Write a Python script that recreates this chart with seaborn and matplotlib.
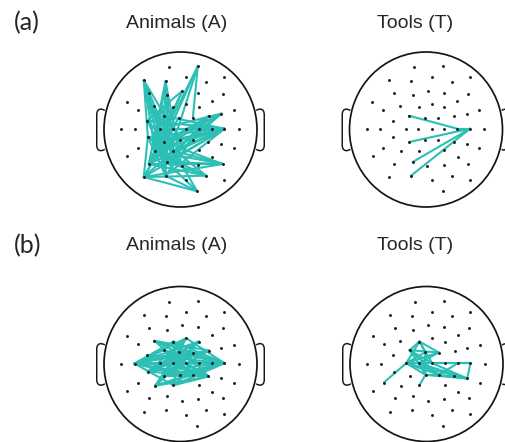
import numpy as np
import pandas as pd
import matplotlib
matplotlib.use("Agg")
import matplotlib.pyplot as plt
from matplotlib.patches import Ellipse, PathPatch
from matplotlib.path import Path
import seaborn as sns

sns.set_theme(style="white")
plt.rcParams["font.family"] = ["Liberation Sans", "DejaVu Sans"]

# Electrode positions on the unit head (x to the right, y towards the nose)
elec_x = [-0.153, 0.226,
          -0.480, -0.196, 0.075, 0.336, 0.575,
          -0.414, -0.174, 0.022, 0.235, 0.553,
          -0.702, -0.558, -0.340, -0.092, 0.075, 0.239, 0.409, 0.697,
          -0.435, -0.222, -0.017, 0.161, 0.370, 0.532,
          -0.775, -0.601, -0.265, -0.101, 0.075, 0.239, 0.409, 0.575, 0.762,
          -0.427, -0.218, -0.013, 0.161, 0.366, 0.532,
          -0.697, -0.558, -0.331, -0.092, 0.239, 0.414, 0.697,
          -0.414, -0.174, 0.017, 0.235, 0.553,
          -0.480, -0.196, 0.075, 0.336, 0.575,
          0.218]
elec_y = [0.806, 0.815,
          0.635, 0.622, 0.677, 0.613, 0.677,
          0.467, 0.441, 0.497, 0.471, 0.462,
          0.359, 0.255, 0.299, 0.290, 0.333, 0.290, 0.368, 0.248,
          0.114, 0.178, 0.152, 0.148, 0.174, 0.204,
          0.006, 0.006, 0.010, 0.010, 0.010, 0.010, 0.010, 0.010, 0.006,
          -0.097, -0.161, -0.139, -0.139, -0.161, -0.187,
          -0.346, -0.239, -0.281, -0.274, -0.268, -0.355, -0.239,
          -0.445, -0.419, -0.475, -0.454, -0.445,
          -0.613, -0.596, -0.655, -0.596, -0.648,
          -0.797]

# Significant connections (pairs of electrode indices) per condition
animals_a_edges = [
    (33, 20), (33, 35), (33, 28), (33, 36), (33, 43), (33, 44), (33, 49), (33, 48),
    (33, 29), (33, 21), (33, 37), (33, 54), (33, 53),
    (25, 36), (25, 43), (25, 44), (25, 28), (25, 49),
    (24, 43), (24, 36), (24, 49), (24, 54),
    (52, 43), (52, 48), (52, 49), (52, 36), (52, 44), (52, 53),
    (56, 53), (56, 48), (56, 36), (56, 43), (56, 49),
    (58, 54), (58, 53), (58, 43), (58, 44),
    (2, 36), (2, 43), (2, 49), (2, 44), (2, 54), (2, 29), (2, 35),
    (3, 36), (3, 43), (3, 50), (3, 48), (3, 44),
    (8, 43), (8, 49), (8, 54), (9, 20), (9, 48), (9, 43),
    (1, 23), (1, 43), (1, 36), (1, 49),
    (20, 44), (20, 49), (35, 44), (35, 50), (35, 54), (35, 53),
    (21, 49), (21, 44), (28, 50), (28, 54), (29, 48), (36, 50), (37, 48),
    (43, 50), (15, 48), (15, 43), (14, 49), (22, 43), (21, 54),
    (53, 36), (53, 44), (53, 29),
]
tools_a_edges = [(21, 32), (36, 33), (49, 33), (54, 33), (32, 33)]
animals_b_edges = [
    (27, 33), (27, 16), (27, 17), (27, 22), (27, 23), (27, 24), (27, 30), (27, 31),
    (27, 32), (27, 38), (27, 39), (27, 37), (27, 15), (27, 21), (27, 44),
    (33, 14), (33, 15), (33, 21), (33, 22), (33, 28), (33, 29), (33, 35), (33, 36),
    (33, 37), (33, 43), (33, 44), (33, 20), (33, 16),
    (14, 23), (14, 24), (14, 31), (14, 38), (15, 38), (15, 39), (16, 35), (16, 36),
    (16, 43), (17, 35), (17, 28), (17, 36), (21, 31), (21, 39), (22, 36), (22, 44),
    (23, 35), (23, 43), (24, 28), (24, 36), (28, 39), (29, 39), (35, 39), (36, 39),
    (43, 38), (43, 39), (44, 39), (44, 31), (35, 24), (36, 23), (43, 17),
]
tools_b_edges = [
    (42, 28), (28, 33), (15, 21), (15, 23), (15, 22), (21, 23), (21, 29), (21, 30),
    (21, 38), (15, 28), (15, 30), (23, 28), (23, 29), (22, 37), (28, 37), (28, 38),
    (29, 38), (29, 40), (30, 40), (28, 40), (30, 33), (32, 38), (37, 40), (38, 40),
    (39, 40), (37, 44), (37, 39), (33, 40), (22, 28), (29, 37),
]

row_labels = ["(a)", "(b)"]
condition_titles = ["Animals (A)", "Tools (T)"]

W, H = 505, 442
fig = plt.figure(figsize=(W / 100, H / 100), dpi=100)
fig.patch.set_facecolor("white")

TEAL = "#2bbfb5"
RX, RY = 76.5, 77.5      # head radius in pixels
PAD = 1.25


def head_axes(cx, cy):
    ax = fig.add_axes([(cx - PAD * RX) / W, 1 - (cy + PAD * RY) / H,
                       2 * PAD * RX / W, 2 * PAD * RY / H])
    ax.set_xlim(-PAD, PAD)
    ax.set_ylim(-PAD, PAD)
    ax.set_axis_off()
    return ax


def draw_head(ax):
    ax.add_patch(Ellipse((0, 0), 2, 2, fill=False, ec="#151515", lw=1.25, zorder=1))
    for side in (-1, 1):
        verts = [(0.99, 0.245), (1.03, 0.275), (1.095, 0.275), (1.095, 0.19),
                 (1.095, -0.2), (1.095, -0.285), (1.03, -0.285), (0.99, -0.255)]
        verts = [(side * vx, vy) for vx, vy in verts]
        codes = [Path.MOVETO, Path.CURVE4, Path.CURVE4, Path.CURVE4,
                 Path.LINETO, Path.CURVE4, Path.CURVE4, Path.CURVE4]
        ax.add_patch(PathPatch(Path(verts, codes), fill=False, ec="#151515",
                               lw=1.05, zorder=1))


def draw_network(ax, edges):
    rows = []
    for k, (i, j) in enumerate(edges):
        rows.append({"edge": k, "x": elec_x[i], "y": elec_y[i]})
        rows.append({"edge": k, "x": elec_x[j], "y": elec_y[j]})
    df = pd.DataFrame(rows)
    sns.lineplot(data=df, x="x", y="y", units="edge", estimator=None, sort=False,
                 color=TEAL, lw=1.5, ax=ax, legend=False, zorder=2)
    sns.scatterplot(x=elec_x, y=elec_y, s=4.5, color="#1e1e1e", linewidth=0,
                    ax=ax, legend=False, zorder=3)
    ax.set_xlim(-PAD, PAD)
    ax.set_ylim(-PAD, PAD)
    ax.set_axis_off()


centers = [[(180.5, 129.5), (426.0, 129.5)],
           [(180.5, 364.0), (426.5, 364.0)]]
networks = [[animals_a_edges, tools_a_edges],
            [animals_b_edges, tools_b_edges]]

for r in range(2):
    for c in range(2):
        ax = head_axes(*centers[r][c])
        draw_head(ax)
        draw_network(ax, networks[r][c])

title_y = [23, 246]
title_x = [176.5, 415.5]
for r in range(2):
    fig.text(14 / W, 1 - title_y[r] / H, row_labels[r], fontsize=18,
             ha="left", va="center", family=["Lato", "DejaVu Sans"])
    for c in range(2):
        fig.text(title_x[c] / W, 1 - title_y[r] / H, condition_titles[c],
                 fontsize=14, ha="center", va="center")

fig.savefig("out.png", dpi=100, facecolor="white")
